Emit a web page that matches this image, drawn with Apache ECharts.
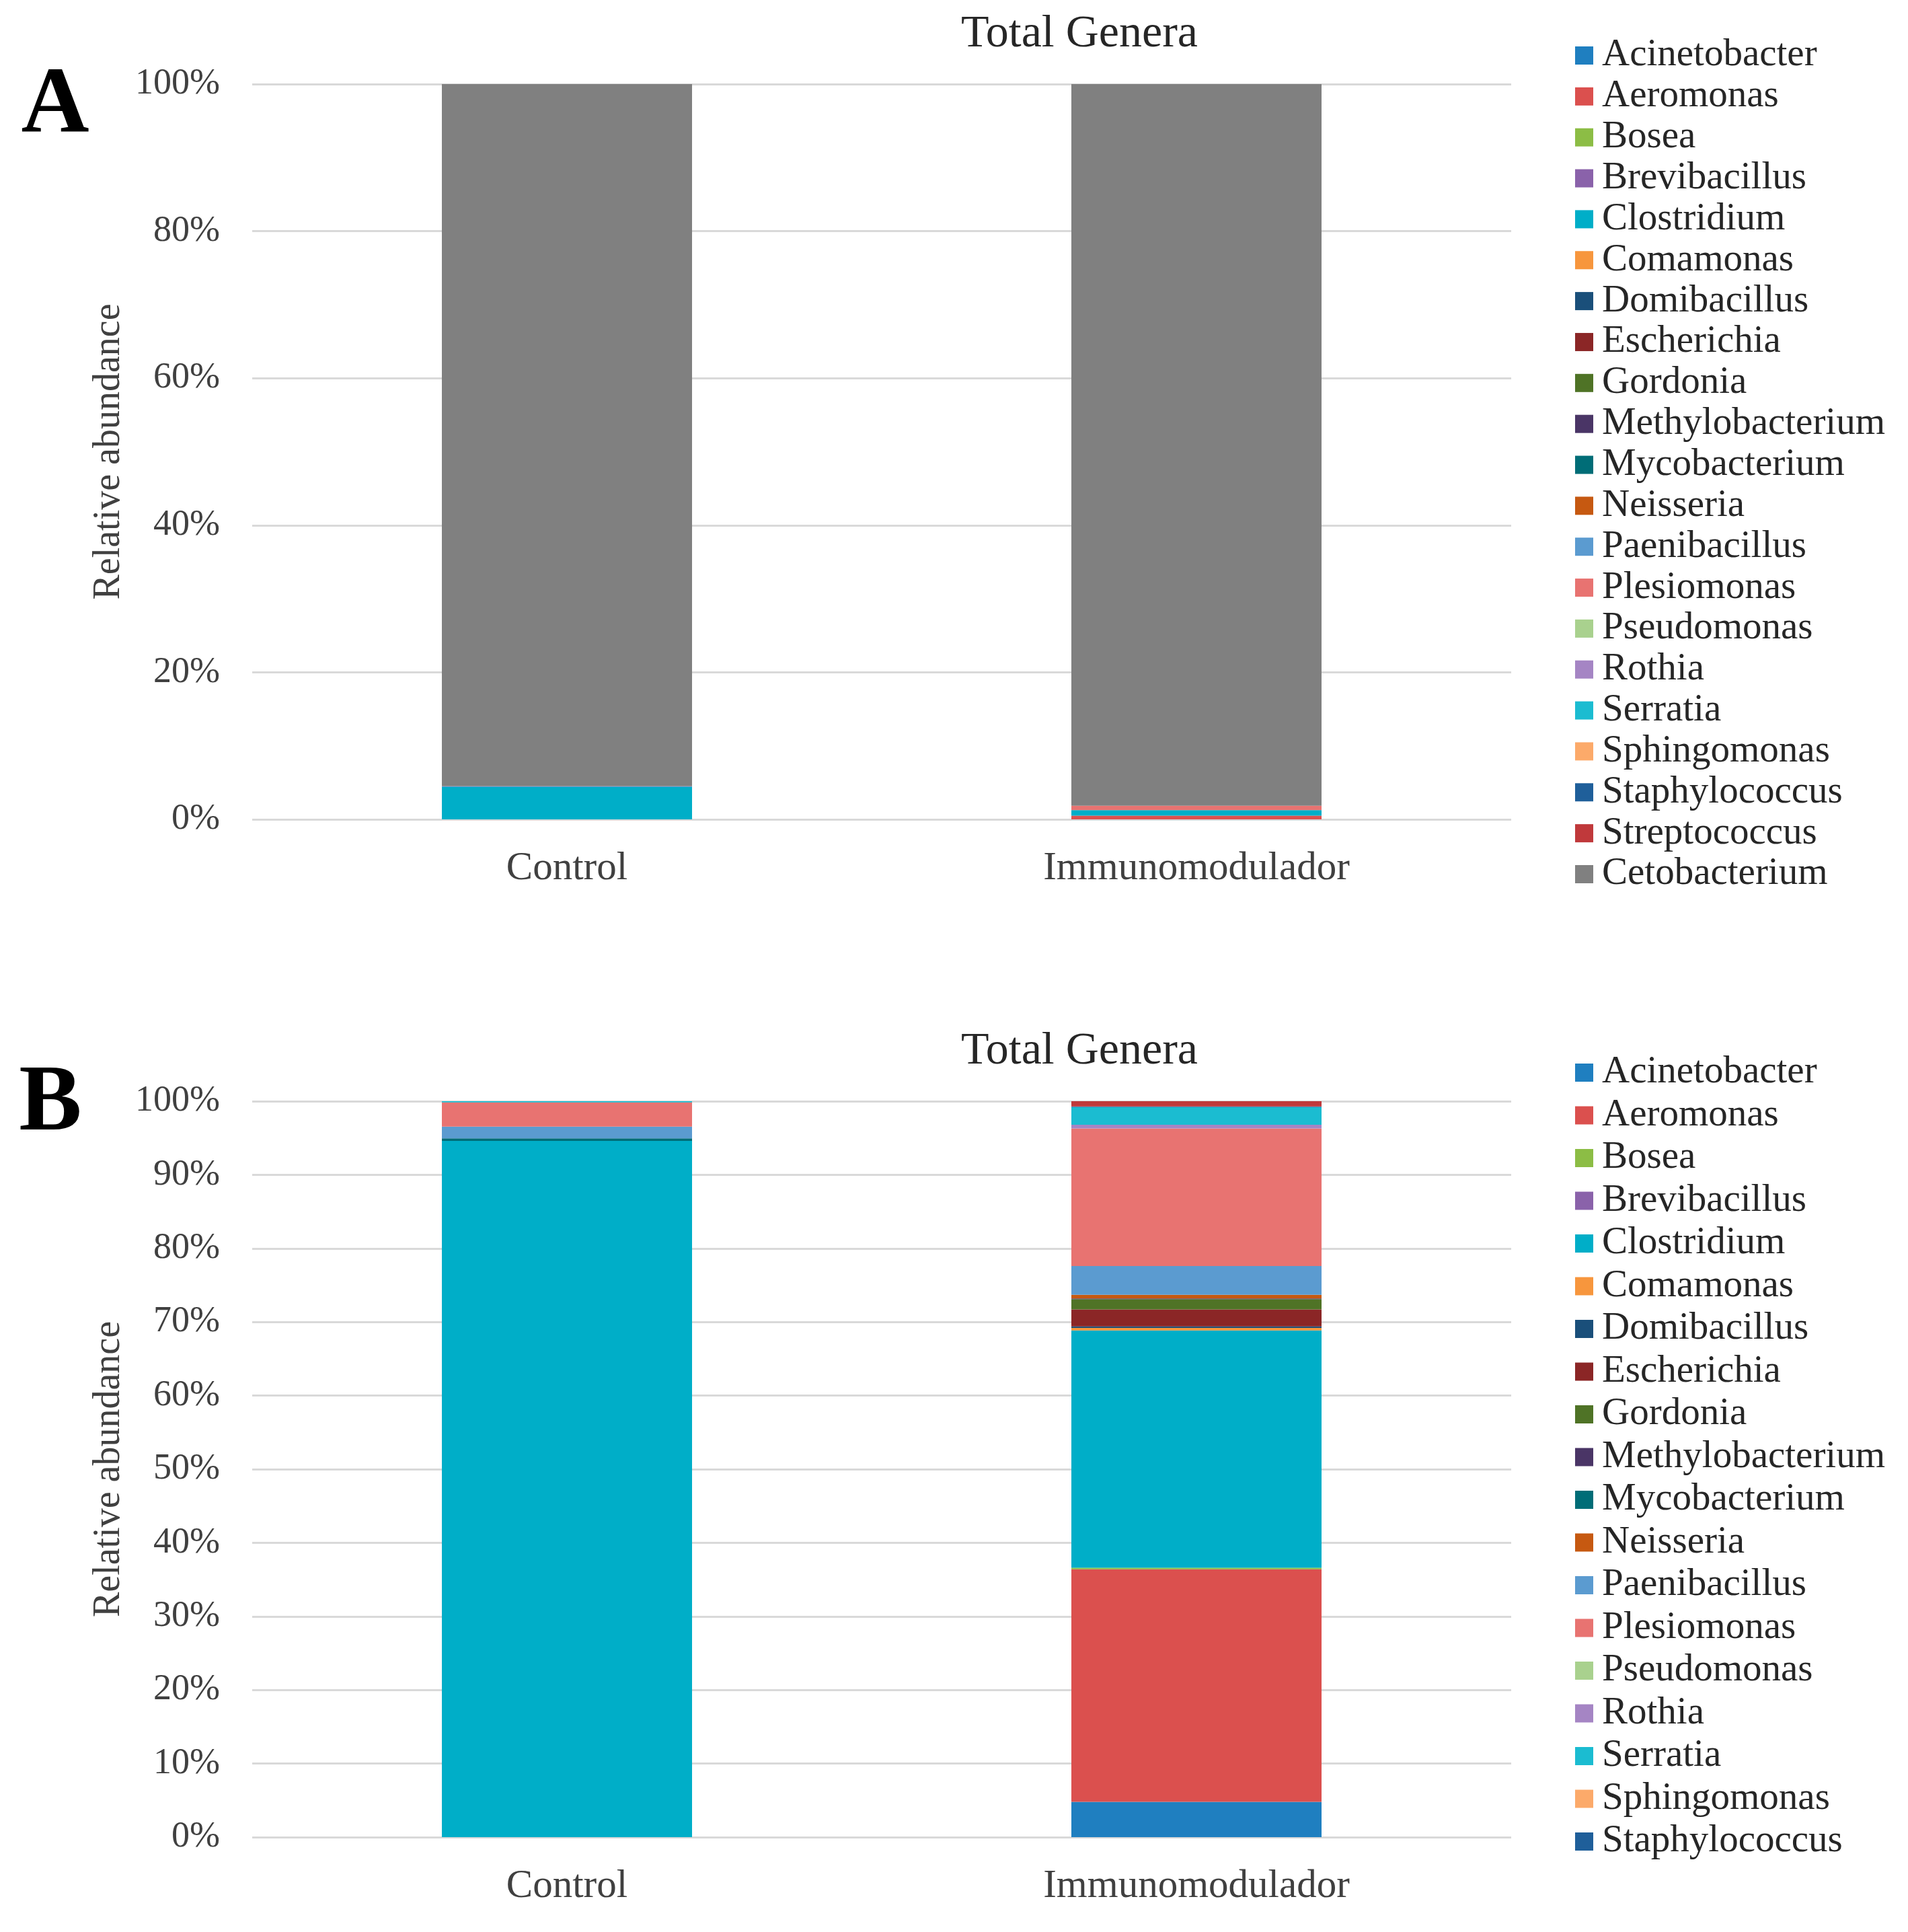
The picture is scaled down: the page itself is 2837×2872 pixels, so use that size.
<!DOCTYPE html>
<html><head><meta charset="utf-8">
<script src="https://cdn.jsdelivr.net/npm/echarts@6/dist/echarts.min.js"></script>
<style>html,body{margin:0;padding:0;background:#fff}#c{width:2837px;height:2872px}</style>
</head><body><div id="c"></div>
<script>
// ---- data ----
const categories = ['Control', 'Immunomodulador'];
const genera = ['Acinetobacter','Aeromonas','Bosea','Brevibacillus','Clostridium','Comamonas','Domibacillus','Escherichia','Gordonia','Methylobacterium','Mycobacterium','Neisseria','Paenibacillus','Plesiomonas','Pseudomonas','Rothia','Serratia','Sphingomonas','Staphylococcus','Streptococcus','Cetobacterium'];
const generaColors = ['#1f7fc0','#db504e','#8cbd45','#8a62aa','#00aec8','#f7963d','#1a4f7a','#8b2626','#4f7326','#4a3566','#006d77','#c65911','#5b9bd0','#e87371','#a9d18e','#a585c4','#1bbcd1','#fcaa6a','#1f5f9a','#c0393b','#808080'];
// Panel A (%), one value per genus
const aControl = [0,0,0,0,4.4,0,0,0,0,0,0,0,0.1,0,0,0,0,0,0,0,95.5];
const aImmuno  = [0,0.5,0,0,0.75,0,0,0,0,0,0,0,0,0.6,0,0,0,0,0,0,98.15];
// Panel B (%), one value per genus
const bControl = [0,0,0,0,94.6,0,0,0,0,0,0.35,0,1.6,3.3,0,0,0.15,0,0,0,0];
const bImmuno  = [4.8,31.6,0.2,0,32.25,0.35,0.2,2.3,1.4,0.1,0,0.5,3.9,18.7,0,0.5,2.4,0,0.1,0.7,0];
const legendA = genera.slice(0, 21);
const legendB = genera.slice(0, 19);
const titleText = 'Total Genera';
const yName = 'Relative abundance';
const panelLetters = ['A', 'B'];

// ---- chart ----
const FONT = 'Liberation Serif';
const chart = echarts.init(document.getElementById('c'), null, {renderer: 'canvas'});

function yAxis(gi, interval) {
  return {
    type: 'value', gridIndex: gi, min: 0, max: 100, interval: interval,
    name: yName, nameLocation: 'middle', nameGap: 183,
    nameTextStyle: {fontFamily: FONT, fontSize: 56, color: '#404040'},
    axisLabel: {formatter: '{value}%', fontFamily: FONT, fontSize: 54, color: '#404040', margin: 48},
    axisLine: {show: false}, axisTick: {show: false},
    splitLine: {lineStyle: {color: '#d9d9d9', width: 3}}
  };
}
function xAxis(gi) {
  return {
    type: 'category', gridIndex: gi, data: categories,
    axisLabel: {fontFamily: FONT, fontSize: 59, color: '#404040', margin: 44},
    axisLine: {show: false}, axisTick: {show: false}
  };
}

const series = [];
genera.forEach((g, i) => {
  series.push({name: g, type: 'bar', stack: 'A', xAxisIndex: 0, yAxisIndex: 0, barWidth: 372,
    itemStyle: {color: generaColors[i]}, data: [aControl[i], aImmuno[i]], animation: false});
});
genera.forEach((g, i) => {
  series.push({name: g, type: 'bar', stack: 'B', xAxisIndex: 1, yAxisIndex: 1, barWidth: 372,
    itemStyle: {color: generaColors[i]}, data: [bControl[i], bImmuno[i]], animation: false});
});

function legend(data, top, gap) {
  return {
    data: data, orient: 'vertical', left: 2337, top: top, icon: 'rect',
    itemWidth: 27, itemHeight: 27, itemGap: gap,
    textStyle: {fontFamily: FONT, fontSize: 57, color: '#262626', padding: [0, 0, 0, 8]},
    selectedMode: false
  };
}

chart.setOption({
  backgroundColor: '#ffffff',
  animation: false,
  grid: [
    {left: 375, width: 1872, top: 125, height: 1093},
    {left: 375, width: 1872, top: 1637, height: 1094}
  ],
  xAxis: [xAxis(0), xAxis(1)],
  yAxis: [yAxis(0, 20), yAxis(1, 10)],
  legend: [legend(legendA, 49, 3.85), legend(legendB, 1561, 6.5)],
  graphic: [
    {type: 'text', style: {x: 1605, y: 51, text: titleText, textAlign: 'center', textVerticalAlign: 'middle', fontFamily: FONT, fontSize: 68, fill: '#262626'}},
    {type: 'text', style: {x: 1605, y: 1563, text: titleText, textAlign: 'center', textVerticalAlign: 'middle', fontFamily: FONT, fontSize: 68, fill: '#262626'}},
    {type: 'text', style: {x: 82, y: 160, text: panelLetters[0], textAlign: 'center', textVerticalAlign: 'middle', fontFamily: FONT, fontWeight: 'bold', fontSize: 140, fill: '#000'}},
    {type: 'text', style: {x: 75, y: 1643, text: panelLetters[1], textAlign: 'center', textVerticalAlign: 'middle', fontFamily: FONT, fontWeight: 'bold', fontSize: 140, fill: '#000'}}
  ],
  series: series
});
</script></body></html>
